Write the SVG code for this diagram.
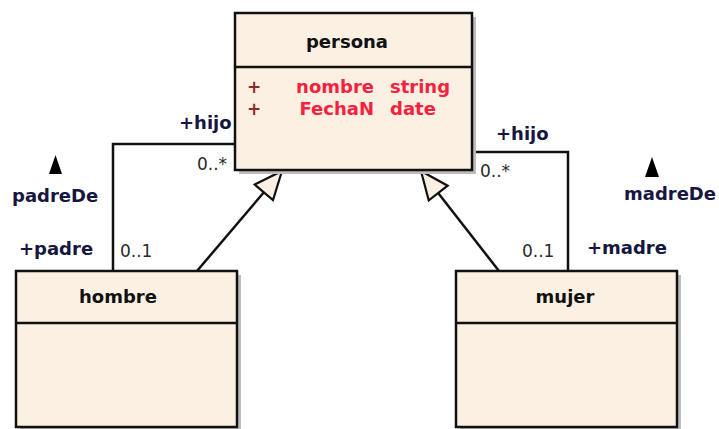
<svg xmlns="http://www.w3.org/2000/svg" width="719" height="429" viewBox="0 0 719 429">
<defs>
<style>
.box{fill:#fbf0e2;stroke:#111;stroke-width:2.5}
.shadow{fill:#bdbdbd}
.div{stroke:#111;stroke-width:2.5}
.cn{fill:#111;font-family:"DejaVu Sans",sans-serif;font-weight:bold;font-size:18px;text-anchor:middle}
.attr{fill:#f5213f;font-family:"DejaVu Sans",sans-serif;font-weight:bold;font-size:18px}
.plus{fill:#8e2a2a;font-family:"DejaVu Sans",sans-serif;font-weight:bold;font-size:17px}
.role{fill:#161640;font-family:"DejaVu Sans",sans-serif;font-weight:bold;font-size:18px}
.mult{fill:#2a2a2a;font-family:"DejaVu Sans",sans-serif;font-size:17px}
.line{fill:none;stroke:#111;stroke-width:2.5}
</style>
<marker id="gen" markerUnits="userSpaceOnUse" markerWidth="34" markerHeight="30" viewBox="-2 -14 34 28" refX="28" refY="0" orient="auto">
<path d="M0,-12 L28,0 L0,12 Z" fill="#fbf0e2" stroke="#111" stroke-width="2.2" stroke-linejoin="miter"/>
</marker>
</defs>
<rect width="719" height="429" fill="#ffffff"/>

<g id="connectors">
<polyline class="line" points="113,271 113,144 235,144"/>
<polyline class="line" points="568,271 568,152 472,152"/>
<line class="line" x1="197" y1="271" x2="282" y2="171" marker-end="url(#gen)"/>
<line class="line" x1="499" y1="271" x2="421" y2="171" marker-end="url(#gen)"/>
<text class="role" x="179" y="129">+hijo</text>
<text class="mult" x="197" y="170">0..*</text>
<text class="mult" x="120" y="257">0..1</text>
<text class="role" x="19" y="255">+padre</text>
<path d="M55.5,155 L49,174 L62,174 Z" fill="#000"/>
<text class="role" x="12" y="202">padreDe</text>
<text class="role" x="496" y="140">+hijo</text>
<text class="mult" x="480" y="177">0..*</text>
<text class="mult" x="522" y="257">0..1</text>
<text class="role" x="587" y="254">+madre</text>
<path d="M652,157 L645,177 L659,177 Z" fill="#000"/>
<text class="role" x="624" y="200">madreDe</text>
</g>

<g id="persona">
<rect class="shadow" x="239" y="17" width="237" height="157"/>
<rect class="box" x="235" y="13" width="237" height="157"/>
<line class="div" x1="235" y1="67" x2="472" y2="67"/>
<text class="cn" x="347" y="48">persona</text>
<text class="plus" x="247" y="93">+</text>
<text class="attr" x="374" y="93" text-anchor="end">nombre</text>
<text class="attr" x="390" y="93">string</text>
<text class="plus" x="247" y="115">+</text>
<text class="attr" x="374" y="115" text-anchor="end">FechaN</text>
<text class="attr" x="390" y="115">date</text>
</g>

<g id="hombre">
<rect class="shadow" x="20" y="275" width="221" height="156"/>
<rect class="box" x="16" y="271" width="221" height="156"/>
<line class="div" x1="16" y1="323" x2="237" y2="323"/>
<text class="cn" x="118" y="303">hombre</text>
</g>

<g id="mujer">
<rect class="shadow" x="460" y="275" width="221" height="156"/>
<rect class="box" x="456" y="271" width="221" height="156"/>
<line class="div" x1="456" y1="323" x2="677" y2="323"/>
<text class="cn" x="565" y="303">mujer</text>
</g>
</svg>
